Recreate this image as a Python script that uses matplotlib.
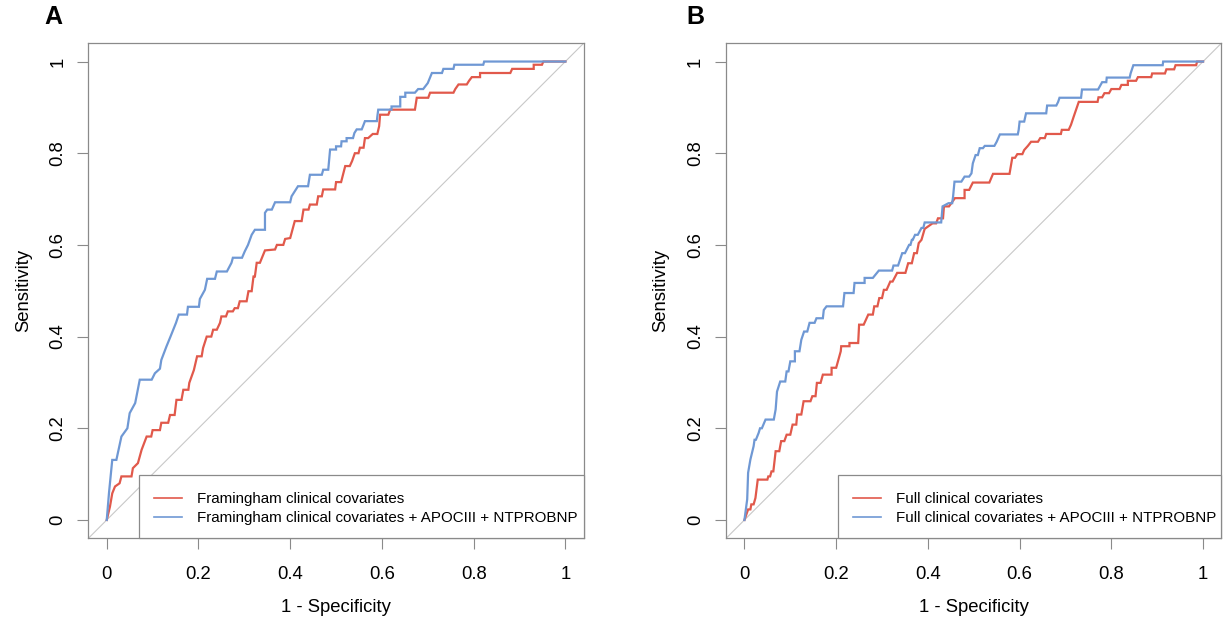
import matplotlib
matplotlib.use("Agg")
import matplotlib.pyplot as plt
from matplotlib.patches import Rectangle

plt.rcParams['font.family'] = ['Liberation Sans', 'DejaVu Sans']

# ---------------- data ----------------
panel_labels = ["A", "B"]
legend_a = ["Framingham clinical covariates",
            "Framingham clinical covariates + APOCIII + NTPROBNP"]
legend_b = ["Full clinical covariates",
            "Full clinical covariates + APOCIII + NTPROBNP"]
tick_values = [0, 0.2, 0.4, 0.6, 0.8, 1]
tick_labels = ["0", "0.2", "0.4", "0.6", "0.8", "1"]
xlabel = "1 - Specificity"
ylabel = "Sensitivity"

# Panel A, clinical model (red)
fpr_a_clin = [0, 0.007, 0.012, 0.018, 0.028, 0.032, 0.054, 0.057, 0.068, 0.076, 0.087, 0.097,
              0.10, 0.116, 0.119, 0.134, 0.138, 0.148, 0.152, 0.163, 0.167, 0.178, 0.18, 0.19,
              0.197, 0.207, 0.21, 0.218, 0.228, 0.232, 0.24, 0.247, 0.25, 0.26, 0.264, 0.275,
              0.279, 0.286, 0.29, 0.305, 0.309, 0.316, 0.32, 0.323, 0.327, 0.334, 0.345, 0.367,
              0.371, 0.385, 0.389, 0.40, 0.403, 0.41, 0.425, 0.429, 0.44, 0.443, 0.458, 0.461,
              0.469, 0.472, 0.498, 0.50, 0.511, 0.52, 0.53, 0.535, 0.541, 0.549, 0.552, 0.56,
              0.563, 0.57, 0.58, 0.59, 0.594, 0.596, 0.614, 0.618, 0.672, 0.676, 0.701, 0.705,
              0.756, 0.76, 0.767, 0.785, 0.79, 0.796, 0.814, 0.814, 0.88, 0.884, 0.931, 0.931,
              0.949, 0.952, 1.0]
tpr_a_clin = [0, 0.029, 0.058, 0.073, 0.080, 0.095, 0.095, 0.113, 0.124, 0.153, 0.182, 0.182,
              0.196, 0.196, 0.212, 0.212, 0.229, 0.229, 0.262, 0.262, 0.284, 0.284, 0.299, 0.327,
              0.357, 0.357, 0.375, 0.40, 0.40, 0.415, 0.415, 0.43, 0.444, 0.444, 0.455, 0.455,
              0.462, 0.462, 0.477, 0.477, 0.499, 0.499, 0.531, 0.531, 0.561, 0.561, 0.588, 0.590,
              0.60, 0.60, 0.613, 0.615, 0.626, 0.652, 0.652, 0.677, 0.677, 0.688, 0.688, 0.706,
              0.706, 0.721, 0.721, 0.737, 0.737, 0.772, 0.772, 0.783, 0.80, 0.80, 0.812, 0.812,
              0.833, 0.833, 0.842, 0.842, 0.859, 0.884, 0.884, 0.895, 0.895, 0.921, 0.921, 0.932,
              0.932, 0.940, 0.950, 0.950, 0.958, 0.966, 0.966, 0.975, 0.975, 0.984, 0.984, 0.993,
              0.993, 1.0, 1.0]

# Panel A, clinical + APOCIII + NTPROBNP (blue)
fpr_a_full = [0, 0.005, 0.012, 0.021, 0.032, 0.045, 0.05, 0.062, 0.072, 0.098, 0.105, 0.116,
              0.119, 0.130, 0.139, 0.151, 0.157, 0.175, 0.177, 0.201, 0.203, 0.214, 0.219, 0.236,
              0.240, 0.262, 0.272, 0.275, 0.295, 0.301, 0.308, 0.316, 0.323, 0.345, 0.345, 0.350,
              0.360, 0.367, 0.40, 0.403, 0.417, 0.439, 0.443, 0.469, 0.472, 0.483, 0.487, 0.50,
              0.50, 0.511, 0.512, 0.523, 0.523, 0.537, 0.54, 0.545, 0.556, 0.56, 0.563, 0.589,
              0.59, 0.592, 0.621, 0.621, 0.640, 0.640, 0.651, 0.651, 0.672, 0.679, 0.69, 0.70,
              0.709, 0.731, 0.734, 0.756, 0.758, 0.821, 0.823, 1.0]
tpr_a_full = [0, 0.06, 0.131, 0.131, 0.182, 0.20, 0.233, 0.255, 0.306, 0.306, 0.32, 0.33,
              0.349, 0.378, 0.40, 0.43, 0.448, 0.448, 0.465, 0.465, 0.482, 0.502, 0.526, 0.526,
              0.542, 0.542, 0.561, 0.572, 0.572, 0.586, 0.60, 0.622, 0.633, 0.633, 0.670, 0.677,
              0.677, 0.693, 0.693, 0.706, 0.728, 0.728, 0.753, 0.753, 0.764, 0.764, 0.808, 0.808,
              0.815, 0.815, 0.826, 0.826, 0.833, 0.833, 0.844, 0.852, 0.852, 0.862, 0.870, 0.870,
              0.88, 0.895, 0.895, 0.902, 0.902, 0.923, 0.923, 0.932, 0.932, 0.940, 0.940, 0.953,
              0.975, 0.975, 0.984, 0.984, 0.993, 0.993, 1.0, 1.0]

# Panel B, full clinical model (red)
fpr_b_clin = [0, 0.008, 0.013, 0.015, 0.02, 0.024, 0.029, 0.05, 0.052, 0.056, 0.059, 0.063,
              0.066, 0.068, 0.076, 0.08, 0.087, 0.092, 0.10, 0.105, 0.113, 0.115, 0.124, 0.129,
              0.144, 0.148, 0.155, 0.158, 0.166, 0.171, 0.19, 0.19, 0.20, 0.21, 0.211, 0.229,
              0.229, 0.248, 0.25, 0.26, 0.27, 0.28, 0.283, 0.29, 0.294, 0.30, 0.304, 0.31,
              0.318, 0.323, 0.333, 0.351, 0.357, 0.365, 0.37, 0.376, 0.38, 0.386, 0.393, 0.41,
              0.418, 0.422, 0.433, 0.435, 0.446, 0.459, 0.48, 0.48, 0.49, 0.498, 0.534, 0.542,
              0.578, 0.584, 0.59, 0.595, 0.606, 0.61, 0.618, 0.625, 0.64, 0.645, 0.655, 0.658,
              0.69, 0.692, 0.707, 0.712, 0.718, 0.729, 0.77, 0.772, 0.78, 0.785, 0.795, 0.80,
              0.818, 0.822, 0.836, 0.836, 0.854, 0.858, 0.887, 0.889, 0.917, 0.92, 0.937, 0.94,
              0.985, 0.987, 1.0]
tpr_b_clin = [0, 0.023, 0.023, 0.034, 0.034, 0.048, 0.088, 0.088, 0.095, 0.095, 0.106, 0.106,
              0.132, 0.15, 0.15, 0.172, 0.172, 0.186, 0.186, 0.208, 0.208, 0.23, 0.23, 0.259,
              0.259, 0.27, 0.27, 0.299, 0.299, 0.317, 0.317, 0.332, 0.332, 0.368, 0.379, 0.379,
              0.386, 0.386, 0.426, 0.426, 0.448, 0.448, 0.466, 0.466, 0.484, 0.484, 0.502, 0.502,
              0.52, 0.52, 0.539, 0.539, 0.56, 0.56, 0.582, 0.582, 0.604, 0.611, 0.635, 0.647,
              0.647, 0.658, 0.658, 0.684, 0.684, 0.702, 0.702, 0.72, 0.72, 0.736, 0.736, 0.755,
              0.755, 0.79, 0.79, 0.798, 0.798, 0.807, 0.816, 0.825, 0.825, 0.833, 0.833, 0.842,
              0.842, 0.851, 0.851, 0.862, 0.88, 0.912, 0.912, 0.922, 0.922, 0.931, 0.931, 0.94,
              0.94, 0.949, 0.949, 0.958, 0.958, 0.966, 0.966, 0.974, 0.974, 0.983, 0.983, 0.992,
              0.992, 1.0, 1.0]

# Panel B, full clinical + APOCIII + NTPROBNP (blue)
fpr_b_full = [0, 0.006, 0.008, 0.013, 0.02, 0.022, 0.025, 0.031, 0.034, 0.038, 0.046, 0.064,
              0.068, 0.071, 0.078, 0.089, 0.092, 0.096, 0.10, 0.11, 0.11, 0.12, 0.124, 0.13,
              0.137, 0.142, 0.153, 0.157, 0.171, 0.173, 0.179, 0.215, 0.218, 0.238, 0.24, 0.262,
              0.262, 0.28, 0.293, 0.322, 0.325, 0.335, 0.338, 0.344, 0.35, 0.359, 0.362, 0.365,
              0.367, 0.372, 0.378, 0.386, 0.39, 0.393, 0.429, 0.432, 0.445, 0.453, 0.455, 0.458,
              0.473, 0.48, 0.49, 0.495, 0.498, 0.504, 0.509, 0.513, 0.52, 0.524, 0.545, 0.55,
              0.557, 0.596, 0.598, 0.60, 0.61, 0.614, 0.658, 0.66, 0.68, 0.684, 0.687, 0.734,
              0.736, 0.771, 0.78, 0.789, 0.79, 0.84, 0.842, 0.845, 0.848, 0.912, 0.913, 1.0]
tpr_b_full = [0, 0.045, 0.103, 0.132, 0.161, 0.175, 0.175, 0.19, 0.20, 0.20, 0.219, 0.219,
              0.241, 0.28, 0.302, 0.302, 0.324, 0.324, 0.346, 0.346, 0.368, 0.368, 0.393, 0.411,
              0.411, 0.43, 0.43, 0.44, 0.44, 0.458, 0.466, 0.466, 0.495, 0.495, 0.517, 0.517,
              0.528, 0.528, 0.544, 0.544, 0.555, 0.555, 0.564, 0.582, 0.582, 0.60, 0.60, 0.611,
              0.611, 0.622, 0.622, 0.637, 0.637, 0.649, 0.649, 0.684, 0.691, 0.691, 0.706, 0.738,
              0.738, 0.749, 0.749, 0.756, 0.778, 0.796, 0.796, 0.811, 0.811, 0.816, 0.816, 0.825,
              0.841, 0.841, 0.851, 0.869, 0.869, 0.887, 0.887, 0.904, 0.904, 0.912, 0.921, 0.921,
              0.939, 0.939, 0.955, 0.955, 0.965, 0.965, 0.974, 0.983, 0.992, 0.992, 1.0, 1.0]

panels = [
    (fpr_a_clin, tpr_a_clin, fpr_a_full, tpr_a_full, legend_a),
    (fpr_b_clin, tpr_b_clin, fpr_b_full, tpr_b_full, legend_b),
]

# ---------------- styling ----------------
RED = "#E1594B"
BLUE = "#6F98D4"
FRAME = "#8a8a8a"
DIAG = "#c8c8c8"
FS_LEG = 10.9
FS_AX = 13.3

W, H = 1226, 625
fig = plt.figure(figsize=(W / 100, H / 100), dpi=100)
fig.patch.set_facecolor("white")

ax_lefts = [88.4, 726.1]
ax_w = 495.3
ax_top, ax_bot = 43.2, 538.3
ax_h = ax_bot - ax_top
legend_box_left = [139.3, 838.3]   # pixel x of legend box left edge
legend_box_top = 475.0             # pixel y of legend box top edge
label_pos = [(53, 17), (695, 17)]

for i, (fc, tc, ff, tf, leg) in enumerate(panels):
    ax = fig.add_axes([ax_lefts[i] / W, (H - ax_bot) / H, ax_w / W, ax_h / H])
    ax.set_xlim(-0.04, 1.04)
    ax.set_ylim(-0.04, 1.04)
    ax.axline((0, 0), (1, 1), color=DIAG, lw=0.8, zorder=1)
    l1, = ax.plot(fc, tc, color=RED, lw=1.6, zorder=3, solid_joinstyle="miter")
    l2, = ax.plot(ff, tf, color=BLUE, lw=1.6, zorder=3, solid_joinstyle="miter")

    for s in ax.spines.values():
        s.set_color(FRAME)
        s.set_linewidth(0.9)
    ax.set_xticks(tick_values)
    ax.set_xticklabels(tick_labels)
    ax.set_yticks(tick_values)
    ax.set_yticklabels(tick_labels, rotation=90, va="center")
    ax.tick_params(axis="both", direction="out", length=8, width=0.8, color=FRAME,
                   labelsize=FS_AX, labelcolor="black")
    ax.tick_params(axis="x", pad=12)
    ax.tick_params(axis="y", pad=8)

    ax.set_xlabel(xlabel, fontsize=FS_AX)
    ax.xaxis.set_label_coords(0.5, -0.123)
    ax.set_ylabel(ylabel, fontsize=FS_AX)
    ax.yaxis.set_label_coords(-0.114, 0.5)

    # legend box (drawn as a rectangle) anchored at the lower-right corner
    bx = (legend_box_left[i] - ax_lefts[i]) / ax_w
    by = (ax_bot - legend_box_top) / ax_h
    ax.add_patch(Rectangle((bx, 0), 1 - bx, by, transform=ax.transAxes,
                           facecolor="white", edgecolor=FRAME, lw=0.9, zorder=4,
                           clip_on=False))
    lg = ax.legend([l1, l2], leg, loc="upper left",
                   bbox_to_anchor=(bx, by - 3.0 / ax_h),
                   borderaxespad=0, fontsize=FS_LEG, frameon=False,
                   handlelength=1.85, handletextpad=1.0, borderpad=0.95,
                   labelspacing=0.33)
    lg.set_zorder(5)
    for h in lg.legend_handles:
        h.set_linewidth(1.2)

    fig.text(label_pos[i][0] / W, 1 - label_pos[i][1] / H, panel_labels[i],
             fontsize=18, fontweight="bold", ha="center", va="center")

fig.savefig("out.png", dpi=100, facecolor="white")
